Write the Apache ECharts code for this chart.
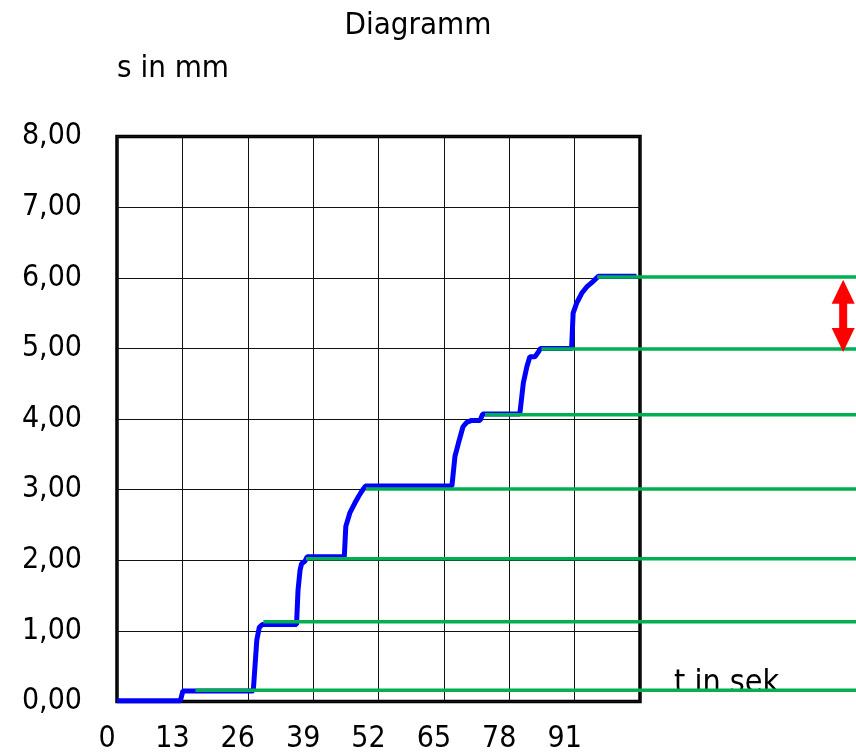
<!DOCTYPE html>
<html lang="de">
<head>
    <meta charset="UTF-8">
    <script src="https://cdn.jsdelivr.net/npm/echarts@6.0.0/dist/echarts.min.js"></script>
    <title>Diagramm</title>
    <style>
        html, body { margin: 0; padding: 0; background: #fff; }
        #tu { width: 856px; height: 755px; }
    </style>
</head>
<body>
<div id="tu"></div>
<script type="text/javascript">
    // Messkurve s(t)
    var timeT = [0, 12.6, 13.1, 27.1, 27.8, 28.3, 28.9, 35.7, 36.0, 36.4,
        36.7, 37.4, 37.8, 45.2, 45.5, 46.3, 47.3, 48.0, 48.6, 49.4,
        66.6, 67.2, 67.9, 68.8, 69.5, 70.5, 72.2, 72.7, 80.1, 80.8,
        81.5, 82.1, 83.1, 83.8, 84.2, 90.4, 90.7, 91.4, 92.4, 93.4,
        94.4, 95.7, 103.3];
    var weg = [0.01, 0.01, 0.15, 0.15, 0.87, 1.05, 1.09, 1.09, 1.58, 1.86,
        1.95, 1.99, 2.05, 2.05, 2.48, 2.67, 2.81, 2.90, 2.97, 3.05,
        3.05, 3.47, 3.66, 3.89, 3.95, 3.98, 3.98, 4.07, 4.07, 4.51,
        4.74, 4.88, 4.88, 4.95, 5.00, 5.00, 5.50, 5.64, 5.78, 5.87,
        5.93, 6.02, 6.02];

    // gruene Hilfslinien (Stufen)
    var stufenNiveau = [0.16, 1.13, 2.02, 3.01, 4.06, 4.99, 6.01];
    var stufenStart = [15.6, 29.1, 37.6, 49.5, 73.2, 84.4, 95.5];
    var stufenEnde = 150;

    // roter Doppelpfeil (Spitzen)
    var pfeilT = 144.4;
    var pfeilOben = 5.97;
    var pfeilUnten = 4.95;

    var fontName = 'DejaVu Sans Condensed';

    var thisChart = echarts.init(document.getElementById('tu'));

    var option = {
        animation: false,
        backgroundColor: '#fff',
        title: {
            text: 'Diagramm',
            left: 413, top: 5,
            textAlign: 'center',
            textStyle: { fontFamily: fontName, fontSize: 31, fontWeight: 'normal', color: '#000' }
        },
        graphic: [
            { type: 'text', left: 117, top: 53, style: { text: 's in mm', font: '31px "' + fontName + '"', fill: '#000' } },
            { type: 'text', left: 674, top: 668, z: 1, style: { text: 't in sek', font: '32px "' + fontName + '"', fill: '#000' } }
        ],
        grid: {
            left: 117, right: 216, top: 136.5, bottom: 53.5,
            show: true, borderColor: '#000', borderWidth: 3.5
        },
        xAxis: {
            type: 'value', min: 0, max: 104, interval: 13,
            axisLine: { show: false }, axisTick: { show: false },
            splitLine: { lineStyle: { color: '#111', width: 1 } },
            axisLabel: {
                showMaxLabel: false, margin: 23, padding: [0, 20, 0, 0],
                fontFamily: fontName, fontSize: 30, color: '#000'
            }
        },
        yAxis: {
            type: 'value', min: 0, max: 8, interval: 1,
            axisLine: { show: false }, axisTick: { show: false },
            splitLine: { lineStyle: { color: '#111', width: 1 } },
            axisLabel: {
                margin: 35, fontFamily: fontName, fontSize: 30, color: '#000',
                formatter: function (v) { return v.toFixed(2).replace('.', ','); }
            }
        },
        series: [{
            type: 'line',
            data: timeT.map(function (t, i) { return [t, weg[i]]; }),
            showSymbol: false,
            lineStyle: { color: '#0000ff', width: 5 },
            z: 3
        }, {
            type: 'custom',
            clip: false,
            z: 4,
            data: stufenNiveau.map(function (s, i) { return [stufenStart[i], s, stufenEnde]; }),
            renderItem: function (params, api) {
                var a = api.coord([api.value(0), api.value(1)]);
                var b = api.coord([api.value(2), api.value(1)]);
                return {
                    type: 'line',
                    shape: { x1: a[0], y1: a[1], x2: b[0], y2: b[1] },
                    style: { stroke: '#00b050', lineWidth: 3.5 }
                };
            }
        }, {
            type: 'custom',
            clip: false,
            z: 5,
            data: [[pfeilT, pfeilOben, pfeilUnten]],
            renderItem: function (params, api) {
                var top = api.coord([api.value(0), api.value(1)]);
                var bot = api.coord([api.value(0), api.value(2)]);
                var x = top[0], h = 24, w = 11.5;
                return {
                    type: 'group',
                    children: [{
                        type: 'line',
                        shape: { x1: x, y1: top[1] + h - 2, x2: x, y2: bot[1] - h + 2 },
                        style: { stroke: '#ff0000', lineWidth: 8 }
                    }, {
                        type: 'polygon',
                        shape: { points: [[x, top[1]], [x - w, top[1] + h], [x + w, top[1] + h]] },
                        style: { fill: '#ff0000' }
                    }, {
                        type: 'polygon',
                        shape: { points: [[x, bot[1]], [x - w, bot[1] - h], [x + w, bot[1] - h]] },
                        style: { fill: '#ff0000' }
                    }]
                };
            }
        }]
    };
    thisChart.setOption(option);
</script>
</body>
</html>
